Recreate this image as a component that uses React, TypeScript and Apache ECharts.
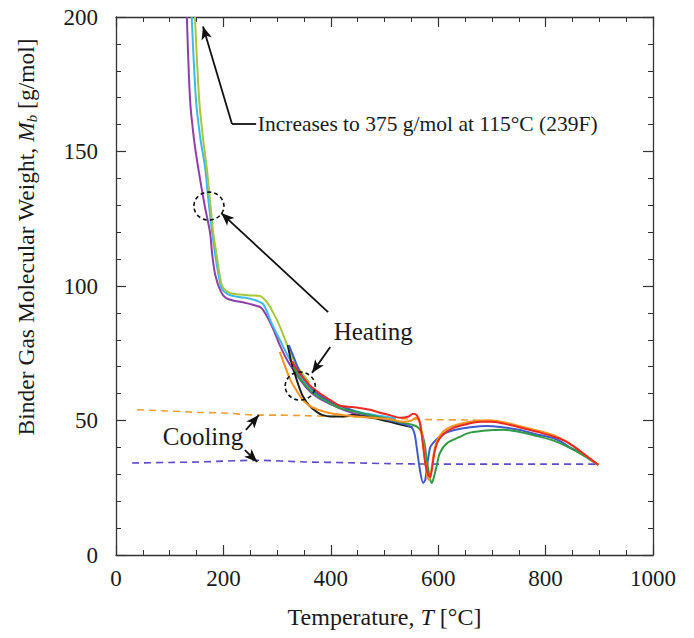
import React, { useEffect, useRef } from 'react';
import * as echarts from 'echarts';

// ---- axis ticks ----
const xTicks = { min: 0, max: 1000, interval: 200 };
const yTicks = { min: 0, max: 200, interval: 50 };

// ---- heating runs [T (°C), Mb (g/mol)] ----
const purpleHeat: number[][] = [
  [132, 200], [138, 169], [145, 155], [153, 144], [165, 130], [175, 120], [179, 112], [185, 104],
  [195, 98], [205, 95.5], [220, 94.5], [240, 93.8], [255, 93], [270, 92], [283, 88], [295, 83],
  [305, 78], [320, 72], [340, 66], [360, 61], [380, 58], [400, 56], [430, 53.5], [455, 52],
  [490, 51.5], [520, 50.5],
];
const cyanHeat: number[][] = [
  [141, 200], [149, 169], [157, 155], [166, 144], [172, 132], [179, 120], [186, 110], [192, 103],
  [197, 99], [208, 97], [225, 96], [245, 95.5], [262, 94.5], [275, 93], [290, 86], [305, 80],
  [320, 74], [340, 67], [360, 62.5], [380, 59], [400, 57], [430, 54.5], [460, 52.8], [490, 51.8],
  [520, 50.8],
];
const yellowGreenHeat: number[][] = [
  [147, 200], [155, 169], [162, 155], [169, 144], [175, 132], [181, 120], [190, 108], [196, 101],
  [201, 99], [212, 97.4], [230, 96.8], [250, 96.5], [268, 96.3], [281, 94], [293, 90], [305, 85],
  [315, 80], [325, 75], [335, 71], [345, 68], [360, 64],
];
const blackHeat: number[][] = [
  [320, 78], [325, 73], [332, 68], [340, 63], [348, 59], [360, 55.5], [375, 53], [385, 52],
  [400, 51.5], [423, 51.5], [440, 52], [460, 51.5], [490, 50.5], [520, 49], [552, 47.5],
];
const blueHeat: number[][] = [
  [322, 78], [330, 74], [340, 69], [350, 65.5], [360, 63], [375, 60], [390, 58], [410, 56],
  [430, 54.5], [450, 53], [470, 52], [490, 51], [510, 50], [530, 49], [550, 47.5], [556, 45],
  [560, 40], [566, 31.6], [572, 26.8], [576, 28], [579, 32.7], [585, 40], [590, 41.5], [600, 43.5],
  [615, 45.5], [630, 46.5], [660, 47.5], [690, 48], [720, 47.5], [752, 46.5], [780, 45],
  [814, 43.5], [830, 42], [845, 40], [864, 38.3], [880, 36], [898, 33.5],
];
const greenHeat: number[][] = [
  [330, 70], [345, 65], [360, 61.5], [375, 59], [393, 57], [417, 54.6], [440, 53.5], [473, 52],
  [500, 50.8], [529, 49.4], [553, 48.3], [562, 47.5], [568, 46], [574, 42], [579, 35], [584, 29],
  [588, 26.8], [592, 29], [597, 33], [603, 37.9], [616, 41.5], [640, 43.9], [659, 45.5],
  [702, 46.5], [721, 46.6], [750, 45.8], [784, 44.2], [815, 42.5], [845, 39.8], [870, 37],
  [898, 33.5],
];
const orangeHeat: number[][] = [
  [305, 75.5], [315, 70], [325, 65], [335, 61.5], [348, 57.6], [365, 55], [393, 53], [423, 52],
  [450, 51.5], [480, 51], [510, 50.5], [535, 49.5], [550, 50], [558, 51], [565, 50], [570, 45],
  [575, 36], [580, 29], [583, 27.9], [587, 31], [592, 38], [598, 42.5], [610, 46], [625, 47.8],
  [650, 49.2], [680, 50], [700, 50], [730, 49], [760, 47.5], [790, 46], [815, 44.5], [835, 42.5],
  [855, 40], [875, 37], [898, 33.5],
];
const redHeat: number[][] = [
  [328, 72], [340, 68], [350, 65.5], [361, 63], [380, 60], [400, 57.5], [417, 55.5], [440, 55],
  [460, 54.5], [473, 54], [490, 53], [510, 52], [529, 51], [545, 51.5], [553, 52.5], [560, 52],
  [566, 49], [571, 42], [576, 34], [581, 30], [585, 29], [589, 33], [594, 39], [600, 42.5],
  [610, 45], [625, 47], [650, 48.5], [680, 49.5], [700, 49.5], [730, 48.5], [760, 47],
  [790, 45.5], [815, 44], [835, 42.5], [855, 40], [875, 37], [898, 33.5],
];

// ---- cooling runs (dashed) ----
const orangeCool: number[][] = [
  [700, 50], [650, 50.2], [600, 50.3], [550, 50.5], [500, 51], [450, 51.3], [400, 51.5],
  [350, 51.8], [300, 52], [268, 52], [200, 52.8], [156, 53], [100, 53.5], [39, 54],
];
const purpleCool: number[][] = [
  [30, 34.2], [100, 34.4], [156, 34.6], [263, 35.2], [350, 34.6], [436, 34.3], [500, 34],
  [600, 33.8], [700, 33.8], [800, 33.8], [898, 33.8],
];

// ---- annotations (data coordinates) ----
const note375 = 'Increases to 375 g/mol at 115°C (239F)';
const noteHeating = 'Heating';
const noteCooling = 'Cooling';
const yTitle = 'Binder Gas Molecular Weight, {i|M}{s|b} [g/mol]';
const xTitle = 'Temperature, {i|T} [°C]';
const note375Pos = [264, 160.2];
const heatingPos = [479, 82.9];
const coolingPos = [162, 43.9];
const circles = [[173, 129.7], [343, 62.8]];
const plainSegments = [[[216, 160.2], [261, 160.2]]];
const arrowSegments = [
  [[216, 160.2], [162, 196.5]],
  [[395, 90.3], [196, 127.1]],
  [[399, 77.3], [365, 67.7]],
  [[242, 46.5], [266, 52]],
  [[240, 39], [263, 34.6]],
];

const FONT = "'Liberation Serif', 'Times New Roman', serif";
const INK = '#1a1a1a';

export default function App() {
  const ref = useRef<HTMLDivElement>(null);
  useEffect(() => {
    document.body.style.margin = '0';
    const chart = echarts.init(ref.current as HTMLDivElement, null, { renderer: 'svg' });

    const axisCommon = {
      axisLine: { show: true, onZero: false, lineStyle: { color: '#333', width: 1.3 } },
      axisTick: { show: true, inside: true, length: 10, lineStyle: { color: '#333', width: 1.2 } },
      minorTick: { show: true, length: 5, lineStyle: { color: '#333', width: 1 } },
      splitLine: { show: false },
    };
    const labelStyle = { fontFamily: FONT, fontSize: 23, color: INK, formatter: (v: number) => String(v) };

    const line = (name: string, data: number[][], color: string, dashed = false, z = 3) => ({
      name,
      type: 'line',
      data,
      showSymbol: false,
      symbol: 'none',
      smooth: 0.3,
      z,
      lineStyle: { color, width: dashed ? 1.6 : 2, type: dashed ? [7, 5] : 'solid' },
      xAxisIndex: 0,
      yAxisIndex: 0,
    });

    const markLineData = [
      ...plainSegments.map((s) => [
        { coord: s[0], symbol: 'none' },
        { coord: s[1], symbol: 'none' },
      ]),
      ...arrowSegments.map((s) => [
        { coord: s[0], symbol: 'none' },
        { coord: s[1], symbol: 'arrow', symbolSize: [8, 13] },
      ]),
    ];

    chart.setOption({
      animation: false,
      grid: { left: 116, right: 41, top: 17, bottom: 83, containLabel: false },
      xAxis: [
        {
          type: 'value', ...xTicks, position: 'bottom', ...axisCommon,
          minorTick: { ...axisCommon.minorTick, splitNumber: 4 },
          axisLabel: { ...labelStyle, margin: 12 },
          name: xTitle,
          nameLocation: 'middle',
          nameGap: 50,
          nameTextStyle: {
            fontFamily: FONT, fontSize: 24, color: INK,
            rich: { i: { fontFamily: FONT, fontSize: 24, fontStyle: 'italic', color: INK } },
          },
        },
        {
          type: 'value', ...xTicks, position: 'top', ...axisCommon,
          minorTick: { ...axisCommon.minorTick, splitNumber: 4 },
          axisLabel: { show: false },
        },
      ],
      yAxis: [
        {
          type: 'value', ...yTicks, position: 'left', ...axisCommon,
          minorTick: { ...axisCommon.minorTick, splitNumber: 5 },
          axisLabel: { ...labelStyle, margin: 18 },
        },
        {
          type: 'value', ...yTicks, position: 'right', ...axisCommon,
          minorTick: { ...axisCommon.minorTick, splitNumber: 5 },
          axisLabel: { show: false },
        },
      ],
      series: [
        line('Cooling (orange)', orangeCool, '#f0a030', true, 2),
        line('Cooling (purple)', purpleCool, '#5b4bc6', true, 2),
        line('Heating purple', purpleHeat, '#8e3fa8'),
        line('Heating cyan', cyanHeat, '#3cb8ea'),
        line('Heating yellow-green', yellowGreenHeat, '#a6c83a'),
        line('Heating black', blackHeat, '#1c1c1c'),
        line('Heating blue', blueHeat, '#3f5cc8'),
        line('Heating green', greenHeat, '#2f9b47'),
        line('Heating orange', orangeHeat, '#f7941d'),
        line('Heating red', redHeat, '#ec2a24'),
        {
          name: 'annotations',
          type: 'line',
          data: [],
          silent: true,
          z: 5,
          markLine: {
            silent: true,
            animation: false,
            label: { show: false },
            lineStyle: { color: '#111', width: 1.8, type: 'solid' },
            emphasis: { disabled: true },
            data: markLineData,
          },
        },
      ],
    });

    const px = (p: number[]) => chart.convertToPixel({ seriesIndex: 0 }, p) as number[];
    const textStyle = (size: number) => ({ fontFamily: FONT, fontSize: size, fill: INK });
    const p375 = px(note375Pos);
    const pHeat = px(heatingPos);
    const pCool = px(coolingPos);
    chart.setOption({
      graphic: [
        ...circles.map((c) => {
          const p = px(c);
          return {
            type: 'ellipse',
            shape: { cx: p[0], cy: p[1], rx: 15, ry: 14 },
            style: { fill: 'none', stroke: '#111', lineWidth: 1.6, lineDash: [4, 3] },
            silent: true,
            z: 10,
          };
        }),
        {
          type: 'text', x: p375[0], y: p375[1], silent: true, z: 10,
          style: { ...textStyle(21.5), text: note375, textAlign: 'left', textVerticalAlign: 'middle' },
        },
        {
          type: 'text', x: pHeat[0], y: pHeat[1], silent: true, z: 10,
          style: { ...textStyle(25), text: noteHeating, textAlign: 'center', textVerticalAlign: 'middle' },
        },
        {
          type: 'text', x: pCool[0], y: pCool[1], silent: true, z: 10,
          style: { ...textStyle(25), text: noteCooling, textAlign: 'center', textVerticalAlign: 'middle' },
        },
        {
          type: 'text', x: 26, y: 237, rotation: Math.PI / 2, silent: true, z: 10,
          style: {
            ...textStyle(23.5),
            text: yTitle,
            textAlign: 'center',
            textVerticalAlign: 'middle',
            rich: {
              i: { fontFamily: FONT, fontSize: 23.5, fontStyle: 'italic', fill: INK },
              s: { fontFamily: FONT, fontSize: 15, fontStyle: 'italic', fill: INK, verticalAlign: 'bottom', padding: [11, 0, 0, 0] },
            },
          },
        },
      ],
    });

    return () => chart.dispose();
  }, []);
  return <div ref={ref} style={{ position: 'absolute', left: 0, top: 0, width: 694, height: 638 }} />;
}
